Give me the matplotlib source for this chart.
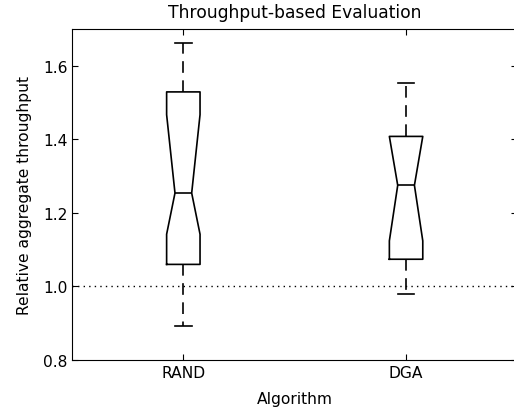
import matplotlib
matplotlib.use('Agg')
import matplotlib.pyplot as plt

# values
algorithms = ['RAND', 'DGA']
whisker_low = [0.893, 0.979]
q1 = [1.060, 1.074]
median = [1.254, 1.275]
q3 = [1.529, 1.408]
whisker_high = [1.663, 1.553]
notch_low = [1.142, 1.124]
notch_high = [1.467, 1.408]

plt.rcParams['font.family'] = 'DejaVu Sans'
plt.rcParams['font.size'] = 11.2

fig = plt.figure(figsize=(5.14, 4.14), dpi=100)
ax = fig.add_axes([0.140, 0.128, 0.8667, 0.7995])

stats = []
for i, name in enumerate(algorithms):
    stats.append({
        'label': name,
        'whislo': whisker_low[i], 'q1': q1[i], 'med': median[i],
        'q3': q3[i], 'whishi': whisker_high[i],
        'cilo': notch_low[i], 'cihi': notch_high[i],
        'fliers': [],
    })

ax.bxp(stats, shownotches=True, widths=0.15,
       boxprops=dict(color='black', linewidth=1.2),
       whiskerprops=dict(color='black', linestyle=(0, (7, 4.5)), linewidth=1.2),
       capprops=dict(color='black', linewidth=1.2),
       medianprops=dict(color='black', linewidth=1.2))

ax.axhline(1.0, color='black', linestyle=(0, (1, 3)), linewidth=1.0)

ax.set_xlim(0.5, 2.5)
ax.set_ylim(0.8, 1.7)
ax.set_yticks([0.8, 1.0, 1.2, 1.4, 1.6])
ax.tick_params(direction='in', top=True, right=True, length=4, width=0.8)
ax.tick_params(axis='y', pad=3)
ax.set_title('Throughput-based Evaluation', fontsize=12.3, pad=9)
ax.set_xlabel('Algorithm', labelpad=8)
ax.set_ylabel('Relative aggregate throughput', labelpad=8)

fig.savefig('out.png', dpi=100)
